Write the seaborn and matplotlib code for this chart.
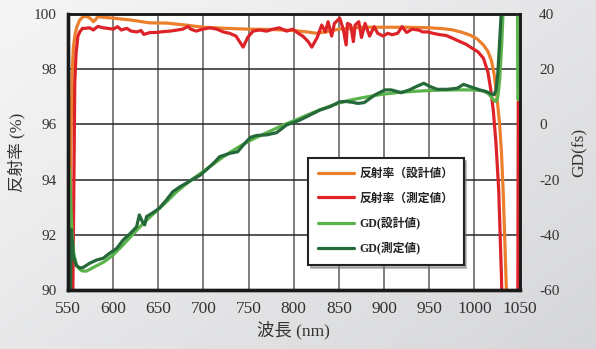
import numpy as np
import matplotlib
matplotlib.use('Agg')
import matplotlib.pyplot as plt
import seaborn as sns

# 反射率（設計値）
refl_design_x = [550.5, 552, 553, 554.5, 556, 558, 560, 563, 566, 569, 573, 576, 578, 580, 583,
                 590, 600, 620, 640, 660, 680, 690, 700, 725, 750, 775, 800, 815, 825, 835,
                 850, 875, 900, 925, 950, 965, 975, 985, 995, 1003, 1010, 1015, 1019, 1022,
                 1025, 1028, 1030, 1032, 1034, 1036, 1038]
refl_design = [85, 90.5, 95, 97.8, 98.8, 99.3, 99.55, 99.78, 99.88, 99.92, 99.88, 99.8, 99.72, 99.78, 99.9,
               99.88, 99.85, 99.78, 99.68, 99.67, 99.6, 99.56, 99.52, 99.48, 99.45, 99.44, 99.4, 99.35, 99.3, 99.35,
               99.45, 99.52, 99.52, 99.52, 99.5, 99.47, 99.43, 99.35, 99.24, 99.1, 98.88, 98.65, 98.3, 97.8,
               97.0, 96.0, 95.0, 93.5, 91.5, 89.5, 87]

# 反射率（測定値）
refl_meas_x = [554, 556, 557.5, 559, 561, 563, 566, 569, 574, 578, 583, 589, 594, 600, 605, 609, 615,
               620, 626, 631, 634, 641, 648, 655, 663, 671, 677, 683, 686, 692, 699, 707, 715, 722,
               729, 736, 741, 744, 749, 755, 762, 770, 777, 784, 792, 799, 805, 810, 816, 820, 826,
               831, 835, 838, 842, 845, 851, 855, 858, 859.5, 863, 866, 868, 872, 875, 879, 884, 889,
               893, 899, 904, 909, 915, 920, 925, 931, 938, 943, 949, 954, 962, 969, 976, 984, 991,
               998, 1004, 1010, 1015, 1018, 1021, 1024, 1027, 1030, 1033, 1046, 1048, 1048.6]
refl_meas = [85, 92, 97.5, 98.6, 99.2, 99.35, 99.48, 99.48, 99.5, 99.42, 99.55, 99.5, 99.48, 99.45, 99.54, 99.42, 99.48,
             99.38, 99.35, 99.4, 99.26, 99.33, 99.33, 99.36, 99.38, 99.42, 99.45, 99.55, 99.45, 99.38, 99.45, 99.5, 99.45, 99.35,
             99.3, 99.2, 98.95, 98.8, 99.15, 99.38, 99.42, 99.38, 99.45, 99.5, 99.38, 99.45, 99.3, 99.2, 99.0, 98.8, 99.15,
             99.6, 99.35, 99.72, 99.2, 99.66, 99.85, 99.42, 98.88, 99.66, 99.6, 99.0, 99.6, 99.72, 99.15, 99.66, 99.2, 99.54,
             99.3, 99.2, 99.3, 99.25, 99.3, 99.54, 99.33, 99.45, 99.42, 99.35, 99.35, 99.3, 99.25, 99.22, 99.12, 99.0, 98.9,
             98.75, 98.63, 98.4, 97.9, 97.3, 96.5, 95.3, 93.6, 90.5, 86, 86, 86.5, 96.8]

# GD(設計値)
gd_design_x = [550, 551.5, 553, 554.5, 556.5, 560, 565, 570, 580, 590, 600, 610, 620, 630, 640, 650,
               660, 670, 680, 690, 700, 710, 720, 730, 740, 750, 760, 770, 780, 790, 800, 810, 820,
               830, 840, 850, 860, 870, 880, 890, 900, 920, 940, 960, 980, 1000, 1010, 1015, 1019,
               1022, 1024, 1026, 1028, 1030, 1032, 1035, 1047.6, 1048.2]
gd_design = [-16, -15.5, -28, -40, -47, -51.5, -53, -53.2, -51.5, -49.8, -47.3, -44, -40.5, -37, -33.8, -30.8,
             -27.8, -24.5, -21.8, -19.3, -17, -14.6, -12.2, -10, -8, -6.1, -4.5, -3, -1.5, 0, 1.3, 2.7, 4.1,
             5.4, 6.6, 7.7, 8.6, 9.3, 9.9, 10.5, 11, 11.7, 12.1, 12.4, 12.5, 12.5, 12.1, 11.3, 9.8,
             8.6, 8.3, 10, 16, 27, 42, 70, 70, 9]

# GD(測定値)
gd_meas_x = [552.5, 553.5, 554.5, 556, 559, 563, 567, 574, 582, 589, 596, 604, 611, 619, 626, 629, 633,
             635, 637, 644, 651, 659, 666, 674, 681, 688, 696, 703, 711, 718, 729, 738, 744, 752, 759,
             770, 781, 792, 799, 807, 818, 829, 840, 851, 858, 865, 871, 878, 890, 901, 908, 919, 928,
             937, 944, 951, 959, 970, 981, 988, 995, 1006, 1013, 1019, 1022, 1024, 1026, 1028, 1030]
gd_meas = [-70, -38, -42, -48, -51, -52, -51.8, -50.3, -49.1, -48.5, -46.7, -44.9, -41.9, -39.5, -37.1, -32.8, -35.7,
           -36.4, -33.4, -32, -30.4, -27.4, -24.4, -22.6, -21.3, -19.9, -18.5, -16.5, -14.1, -11.7, -10.5, -9.9, -7.5, -4.7, -4.0,
           -3.8, -3.0, -0.2, 0.6, 1.6, 3.4, 5.2, 6.4, 8.2, 8.3, 8.0, 7.6, 7.9, 10.7, 12.5, 12.5, 11.5, 12.5,
           13.9, 14.9, 13.7, 12.7, 12.7, 13.1, 14.5, 13.7, 12.5, 11.9, 11.0, 10.8, 12.5, 18.5, 30, 42]

x_ticks = [550, 600, 650, 700, 750, 800, 850, 900, 950, 1000, 1050]
y_ticks = [90, 92, 94, 96, 98, 100]
gd_ticks = [-60, -40, -20, 0, 20, 40]

c_orange = '#ec7f2c'
c_red = '#dd2328'
c_lgreen = '#5ab44b'
c_dgreen = '#25693a'

sns.set_style('white')
plt.rcParams['font.family'] = ['Liberation Serif', 'Noto Sans CJK JP']
plt.rcParams['axes.unicode_minus'] = False

fig = plt.figure(figsize=(5.96, 3.49), dpi=100)

# 背景のグラデーション
bg = fig.add_axes([0, 0, 1, 1], zorder=-10)
gx, gy = np.meshgrid(np.linspace(0, 1, 200), np.linspace(0, 1, 120))
grad = 0.55 * gx + 0.45 * gy
bg.imshow(grad, cmap=matplotlib.colors.LinearSegmentedColormap.from_list('g', ['#f6f6f6', '#d6d7da']),
          aspect='auto', extent=[0, 1, 0, 1])
bg.axis('off')

ax = fig.add_axes([68 / 596, 59 / 349, 451.5 / 596, 276 / 349])
ax.set_facecolor('white')
ax2 = ax.twinx()

sns.lineplot(x=refl_design_x, y=refl_design, ax=ax, color=c_orange, lw=2.3, estimator=None, sort=False,
             label='反射率（設計値）', legend=False)
sns.lineplot(x=refl_meas_x, y=refl_meas, ax=ax, color=c_red, lw=2.3, estimator=None, sort=False,
             label='反射率（測定値）', legend=False)
sns.lineplot(x=gd_design_x, y=gd_design, ax=ax2, color=c_lgreen, lw=2.3, estimator=None, sort=False,
             label='GD(設計値)', legend=False)
sns.lineplot(x=gd_meas_x, y=gd_meas, ax=ax2, color=c_dgreen, lw=2.3, estimator=None, sort=False,
             label='GD(測定値)', legend=False)

ax.set_xlim(550, 1050)
ax.set_ylim(90, 100)
ax2.set_ylim(-60, 40)
ax.set_xticks(x_ticks)
ax.set_yticks(y_ticks)
ax2.set_yticks(gd_ticks)

ax.xaxis.grid(True, color='#6d6663', lw=1.2)
ax.yaxis.grid(True, color='#262626', lw=1.1)
ax.set_axisbelow(True)
ax2.grid(False)

for a in (ax, ax2):
    for s in a.spines.values():
        s.set_color('#1a1a1a')
        s.set_linewidth(1.8)
    a.spines['left'].set_linewidth(2.4)
    a.spines['bottom'].set_linewidth(2.4)

ax.tick_params(axis='x', length=0, pad=8, labelsize=12.5, labelcolor='#333333')
ax.tick_params(axis='y', length=0, pad=8, labelsize=11, labelcolor='#333333')
ax2.tick_params(axis='y', length=0, pad=14, labelsize=11, labelcolor='#333333')

ax.set_xlabel('波長 (nm)', fontsize=12.5, color='#333333', labelpad=3)
ax.set_ylabel('反射率 (%)', fontsize=12, color='#333333', labelpad=6)
ax2.set_ylabel('GD(fs)', fontsize=12.5, color='#333333', labelpad=9)

h1, l1 = ax.get_legend_handles_labels()
h2, l2 = ax2.get_legend_handles_labels()
leg = ax2.legend(h1 + h2, l1 + l2, loc='upper left', bbox_to_anchor=(0.532, 0.478),
                 prop={'size': 8.5, 'weight': 'bold'}, frameon=True, fancybox=False, edgecolor='#222222',
                 shadow={'color': '0.45', 'alpha': 0.45}, handlelength=3.0, handletextpad=0.5,
                 labelspacing=1.05, borderpad=0.85, borderaxespad=0)
leg.get_frame().set_linewidth(1.5)
for t in leg.get_texts():
    t.set_color('#222222')

fig.savefig('out.png', dpi=100)
